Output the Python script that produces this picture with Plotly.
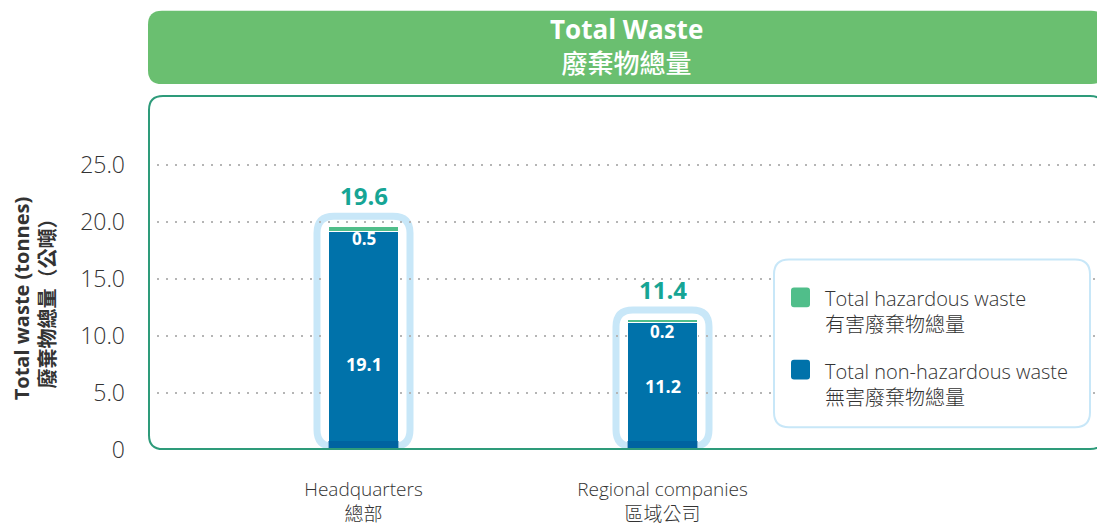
import plotly.graph_objects as go

# ── data ──────────────────────────────────────────────────────────────────────
categories = ["Headquarters<br>總部", "Regional companies<br>區域公司"]
hazardous = [0.5, 0.2]
non_hazardous = [19.1, 11.2]
totals = [19.6, 11.4]
mid_label_y = [7.5, 5.6]          # where the non-hazardous labels sit
y_ticks = [0, 5, 10, 15, 20, 25]
y_ticktext = ["0", "5.0", "10.0", "15.0", "20.0", "25.0"]

HAZ_COLOR = "#50be8a"
NONHAZ_COLOR = "#0072aa"
HALO_COLOR = "#c8e7f8"
BOX_COLOR = "#2e9b7a"
BANNER_COLOR = "#6abf70"
TOTAL_COLOR = "#16a595"
TEXT_COLOR = "#333333"
FONT = "Open Sans, Noto Sans CJK TC, sans-serif"

# ── geometry (pixels, measured on the 1105x527 page) ─────────────────────────
PAGE_PAD = 8                      # body margin of the html page
W, H = 1105 - PAGE_PAD, 527 - PAGE_PAD
PLOT_L, PLOT_R, PLOT_T, PLOT_B = 148, 1105, 96, 453
ML, MR = PLOT_L - PAGE_PAD, 1105 - PLOT_R
MT, MB = PLOT_T - PAGE_PAD, 527 - PLOT_B
PW, PH = PLOT_R - PLOT_L, PLOT_B - PLOT_T
PPX = 299.0                       # px per category step
X0 = -(363.5 - PLOT_L) / PPX
X_RANGE = [X0, X0 + PW / PPX]
Y_RANGE = [0, 31]
PPY = PH / (Y_RANGE[1] - Y_RANGE[0])
BAR_W = 70 / PPX
xs = list(range(len(categories)))


def rounded_path(x0, x1, y0, y1, rx, ry):
    return (f"M {x0 + rx},{y0} L {x1 - rx},{y0} Q {x1},{y0} {x1},{y0 + ry} "
            f"L {x1},{y1 - ry} Q {x1},{y1} {x1 - rx},{y1} L {x0 + rx},{y1} "
            f"Q {x0},{y1} {x0},{y1 - ry} L {x0},{y0 + ry} Q {x0},{y0} {x0 + rx},{y0} Z")


def pxp(px):   # page pixel x -> paper
    return (px - PLOT_L) / PW


def pyp(py):   # page pixel y -> paper
    return (PLOT_B - py) / PH


fig = go.Figure()
fig.add_trace(go.Bar(
    x=xs, y=non_hazardous, name="Total non-hazardous waste",
    marker=dict(color=NONHAZ_COLOR, line=dict(color="white", width=1)),
    width=BAR_W, hoverinfo="y",
))
fig.add_trace(go.Bar(
    x=xs, y=hazardous, name="Total hazardous waste",
    marker=dict(color=HAZ_COLOR, line=dict(color="white", width=1)),
    width=BAR_W, hoverinfo="y",
))

shapes = []
annotations = []

# halo around each bar + darker foot band
for x, tot in zip(xs, totals):
    hx = 46.5 / PPX
    shapes.append(dict(
        type="path", xref="x", yref="y", layer="below",
        path=rounded_path(x - hx, x + hx, 3.5 / PPY, tot + 10 / PPY,
                          17 / PPX, 17 / PPY),
        line=dict(color=HALO_COLOR, width=7), fillcolor="rgba(0,0,0,0)",
    ))
    shapes.append(dict(
        type="rect", xref="x", yref="y", layer="above",
        x0=x - BAR_W / 2, x1=x + BAR_W / 2, y0=0, y1=9 / PPY,
        fillcolor="#0063a0", line=dict(width=0),
    ))
    annotations.append(dict(
        x=x, y=tot, xref="x", yref="y", text=f"<b>{tot:.1f}</b>",
        showarrow=False, yanchor="bottom", yshift=12,
        font=dict(family=FONT, size=24, color=TOTAL_COLOR),
    ))

for x, tot, hz in zip(xs, totals, hazardous):
    annotations.append(dict(
        x=x, y=tot, xref="x", yref="y", text=f"<b>{hz:.1f}</b>",
        showarrow=False, yanchor="middle", yshift=-12,
        font=dict(family=FONT, size=17, color="white"),
    ))

for x, nh, ly in zip(xs, non_hazardous, mid_label_y):
    annotations.append(dict(
        x=x, y=ly, xref="x", yref="y", text=f"<b>{nh:.1f}</b>",
        showarrow=False, yanchor="middle",
        font=dict(family=FONT, size=18, color="white"),
    ))

# plot frame and title banner
shapes.append(dict(
    type="path", xref="paper", yref="paper", layer="above",
    path=rounded_path(pxp(149), pxp(1104), pyp(452), pyp(96),
                      14 / PW, 14 / PH),
    line=dict(color=BOX_COLOR, width=2), fillcolor="rgba(0,0,0,0)",
))
shapes.append(dict(
    type="path", xref="paper", yref="paper", layer="above",
    path=rounded_path(pxp(148), pxp(1105), pyp(84), pyp(10),
                      14 / PW, 14 / PH),
    line=dict(width=0), fillcolor=BANNER_COLOR,
))
annotations.append(dict(
    x=pxp(626), y=pyp(46), xref="paper", yref="paper",
    text="<b>Total Waste</b><br><span style='font-weight:500'>廢棄物總量</span>",
    showarrow=False, xanchor="center", yanchor="middle",
    font=dict(family=FONT, size=26, color="white"),
))

# y-axis title
annotations.append(dict(
    x=pxp(34), y=pyp(300), xref="paper", yref="paper", textangle=-90,
    text="<b>Total waste (tonnes)</b><br><b>廢棄物總量（公噸）</b>", showarrow=False,
    xanchor="center", yanchor="middle",
    font=dict(family=FONT, size=20, color=TEXT_COLOR),
))

# legend box
shapes.append(dict(
    type="path", xref="paper", yref="paper", layer="above",
    path=rounded_path(pxp(774), pxp(1090), pyp(430), pyp(261),
                      15 / PW, 15 / PH),
    line=dict(color=HALO_COLOR, width=2), fillcolor="white",
))
legend_items = [
    (HAZ_COLOR, "Total hazardous waste<br>有害廢棄物總量", 299),
    (NONHAZ_COLOR, "Total non-hazardous waste<br>無害廢棄物總量", 372),
]
for color, label, cy in legend_items:
    shapes.append(dict(
        type="path", xref="paper", yref="paper", layer="above",
        path=rounded_path(pxp(791), pxp(810), pyp(cy + 10), pyp(cy - 10),
                          3 / PW, 3 / PH),
        line=dict(width=0), fillcolor=color,
    ))
    annotations.append(dict(
        x=pxp(823), y=pyp(cy - 14), xref="paper", yref="paper",
        text=label, showarrow=False, xanchor="left", yanchor="top", align="left",
        font=dict(family=FONT, size=20, color=TEXT_COLOR, weight=300),
    ))

fig.update_layout(
    width=W, height=H,
    margin=dict(l=ML, r=MR, t=MT, b=MB),
    barmode="stack", showlegend=False,
    plot_bgcolor="white", paper_bgcolor="white",
    font=dict(family=FONT, color=TEXT_COLOR),
    shapes=shapes, annotations=annotations,
)
fig.update_xaxes(
    range=X_RANGE, tickvals=xs, ticktext=categories,
    showgrid=False, zeroline=False, showline=False, ticks="",
    tickfont=dict(family=FONT, size=19, color=TEXT_COLOR, weight=300),
    ticklabelstandoff=26,
)
fig.update_yaxes(
    range=Y_RANGE, tickvals=y_ticks, ticktext=y_ticktext,
    showgrid=True, gridcolor="#b5b5b5", griddash="1.5px,7.5px", gridwidth=1.5,
    zeroline=False, showline=False, ticks="",
    tickfont=dict(family=FONT, size=23, color=TEXT_COLOR, weight=300),
    ticklabelstandoff=22,
)

fig.write_html("out.html")
